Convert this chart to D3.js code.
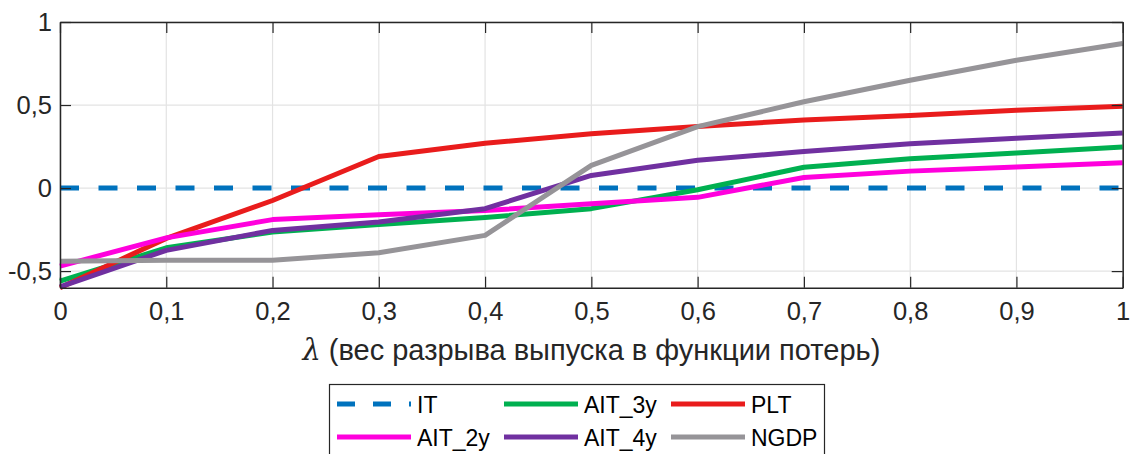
<!DOCTYPE html>
<html>
<head>
<meta charset="utf-8">
<script src="https://cdn.jsdelivr.net/npm/d3@7"></script>
<style>
  body { margin: 0; background: #fff; }
  svg { display: block; font-family: "Liberation Sans", Arial, sans-serif; }
  .axis text { font-size: 25.5px; fill: #262626; }
  .axis path, .axis line { stroke: #262626; }
  .grid line { stroke: #e3e3e3; stroke-width: 1.2; }
</style>
</head>
<body>
<svg></svg>
<script>
var lambdas = [0, 0.1, 0.2, 0.3, 0.4, 0.5, 0.6, 0.7, 0.8, 0.9, 1];
var xTicks = [0, 0.1, 0.2, 0.3, 0.4, 0.5, 0.6, 0.7, 0.8, 0.9, 1];
var yTicks = [-0.5, 0, 0.5, 1];

var itValues = [0, 0, 0, 0, 0, 0, 0, 0, 0, 0, 0];
var ait2yValues = [-0.47, -0.3, -0.19, -0.16, -0.135, -0.094, -0.056, 0.064, 0.102, 0.127, 0.153];
var ait3yValues = [-0.56, -0.36, -0.265, -0.22, -0.177, -0.124, -0.01, 0.125, 0.177, 0.211, 0.247];
var ait4yValues = [-0.595, -0.375, -0.255, -0.205, -0.124, 0.076, 0.167, 0.22, 0.267, 0.30, 0.331];
var pltValues = [-0.6, -0.303, -0.075, 0.19, 0.27, 0.327, 0.37, 0.41, 0.437, 0.468, 0.492];
var ngdpValues = [-0.44, -0.435, -0.435, -0.39, -0.285, 0.137, 0.37, 0.52, 0.649, 0.77, 0.87];

var seriesNames = ['IT', 'AIT_2y', 'AIT_3y', 'AIT_4y', 'PLT', 'NGDP'];
var seriesColors = ['#0072bd', '#ff00dd', '#00b050', '#7030a0', '#e91c1c', '#969498'];
var seriesValues = [itValues, ait2yValues, ait3yValues, ait4yValues, pltValues, ngdpValues];

var series = seriesNames.map(function(name, i) {
  return { name: name, color: seriesColors[i], dashed: i === 0, values: seriesValues[i] };
});

var W = 1130, H = 454;
var margin = { top: 22, right: 7.3, bottom: 166.3, left: 60 };
var width = W - margin.left - margin.right;
var height = H - margin.top - margin.bottom;

var svg = d3.select('svg').attr('width', W).attr('height', H);
var g = svg.append('g')
  .attr('transform', 'translate(' + margin.left + ',' + margin.top + ')');

var scaleX = d3.scaleLinear().domain([0, 1]).range([0, width]);
var scaleY = d3.scaleLinear().domain([-0.6, 1]).range([height, 0]);

var fmt = function(d) { return String(d).replace('.', ','); };

// grid
var grid = g.append('g').attr('class', 'grid');
grid.selectAll('line.gx').data(xTicks).enter().append('line')
  .attr('class', 'gx')
  .attr('x1', scaleX).attr('x2', scaleX)
  .attr('y1', 0).attr('y2', height);
grid.selectAll('line.gy').data(yTicks).enter().append('line')
  .attr('class', 'gy')
  .attr('x1', 0).attr('x2', width)
  .attr('y1', scaleY).attr('y2', scaleY);

// lines
var line = d3.line()
  .x(function(d, i) { return scaleX(lambdas[i]); })
  .y(function(d) { return scaleY(d); });

var drawOrder = [0, 2, 4, 1, 3, 5];
drawOrder.forEach(function(k) {
  var s = series[k];
  g.append('path')
    .datum(s.values)
    .attr('fill', 'none')
    .attr('stroke', s.color)
    .attr('stroke-width', 5)
    .attr('stroke-dasharray', s.dashed ? '19,19.5' : null)
    .attr('stroke-linejoin', 'round')
    .attr('d', line);
});

// axes
var xAxis = d3.axisBottom(scaleX).tickValues(xTicks).tickFormat(fmt).tickSizeInner(-11).tickSizeOuter(0).tickPadding(14);
var yAxis = d3.axisLeft(scaleY).tickValues(yTicks).tickFormat(fmt).tickSizeInner(-11).tickSizeOuter(0).tickPadding(8);

g.append('g').attr('class', 'axis x-axis')
  .attr('transform', 'translate(0,' + height + ')')
  .call(xAxis);
g.append('g').attr('class', 'axis y-axis')
  .call(yAxis);
g.append('g').attr('class', 'axis')
  .call(d3.axisTop(scaleX).tickValues(xTicks).tickFormat('').tickSizeInner(-11).tickSizeOuter(0));
g.append('g').attr('class', 'axis')
  .attr('transform', 'translate(' + width + ',0)')
  .call(d3.axisRight(scaleY).tickValues(yTicks).tickFormat('').tickSizeInner(-11).tickSizeOuter(0));
g.selectAll('.axis path').attr('stroke-width', 1.5);
g.selectAll('.axis line').attr('stroke-width', 1.2);

// x label
var label = svg.append('text')
  .attr('x', margin.left + width / 2)
  .attr('y', 360)
  .attr('text-anchor', 'middle')
  .attr('font-size', 29)
  .attr('fill', '#262626');
label.append('tspan').attr('font-family', '"DejaVu Serif", serif').attr('font-style', 'italic').text('λ');
label.append('tspan').text(' (вес разрыва выпуска в функции потерь)');

// legend
var legend = svg.append('g');
legend.append('rect')
  .attr('x', 329.5).attr('y', 384.5)
  .attr('width', 495).attr('height', 80)
  .attr('fill', '#fff')
  .attr('stroke', '#262626')
  .attr('stroke-width', 1.2);

var colX = [337, 504, 671];
var rowY = [404, 437];
var legendOrder = [0, 2, 4, 1, 3, 5];
legendOrder.forEach(function(k, j) {
  var s = series[k];
  var cx = colX[j % 3];
  var cy = rowY[Math.floor(j / 3)];
  legend.append('line')
    .attr('x1', cx).attr('x2', cx + 74)
    .attr('y1', cy).attr('y2', cy)
    .attr('stroke', s.color)
    .attr('stroke-width', 5)
    .attr('stroke-dasharray', s.dashed ? '18,18' : null);
  legend.append('text')
    .attr('x', cx + 80)
    .attr('y', cy + 8.5)
    .attr('font-size', 23)
    .attr('fill', '#000')
    .text(s.name);
});
</script>
</body>
</html>
